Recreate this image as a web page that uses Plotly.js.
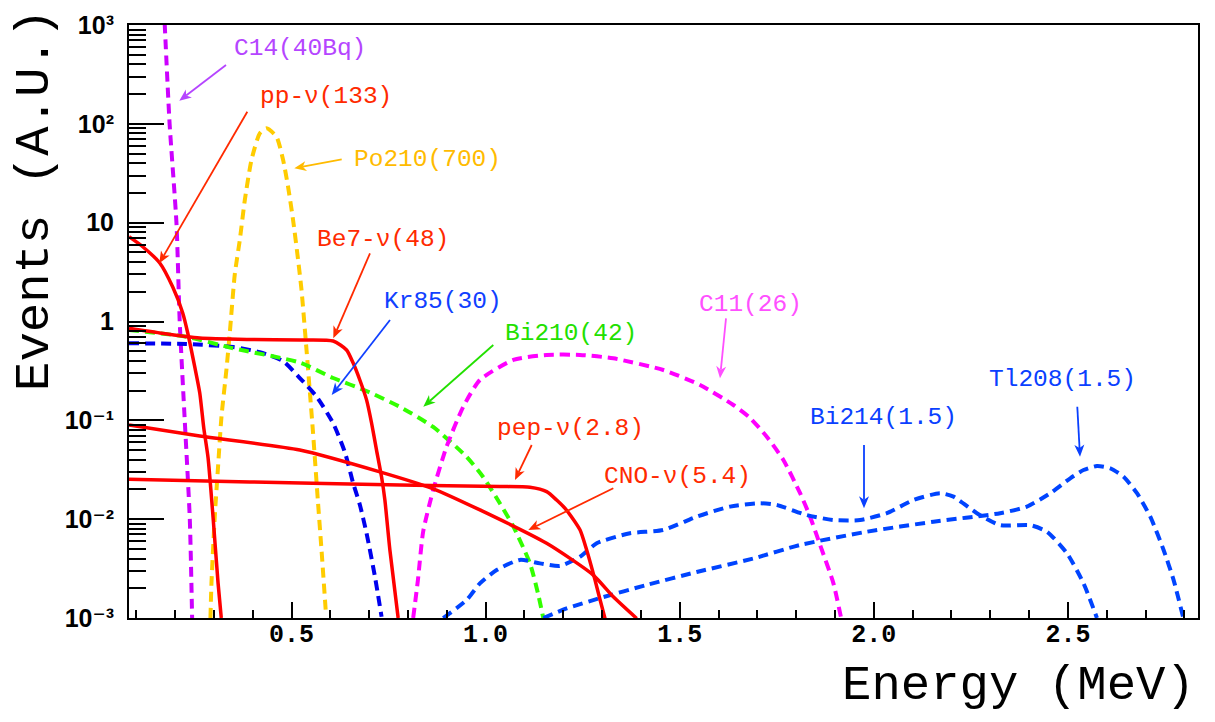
<!DOCTYPE html>
<html>
<head>
<meta charset="utf-8">
<script src="https://cdn.plot.ly/plotly-3.0.1.min.js"></script>
<style>
  html, body { margin: 0; padding: 0; background: #fff; }
  #chart { width: 1215px; height: 722px; }
</style>
</head>
<body>
<div id="chart"></div>
<script>
// Expected spectra of signal and background in the fiducial volume (energy in MeV, events in A.U.)

// C14 (40 Bq)
const c14E = [0.1713, 0.1735, 0.186, 0.2036, 0.212, 0.225, 0.238, 0.244];
const c14Y = [1500, 1000, 100, 10, 1, 0.1, 0.01, 0.001];

// pp-neutrinos (133)
const ppE = [0.0814, 0.1168, 0.1606, 0.1941, 0.2198, 0.2327, 0.2508, 0.2637, 0.2740, 0.2851, 0.2979, 0.3108, 0.3191];
const ppY = [7.21, 5.71, 3.91, 2.23, 1.22, 0.765, 0.347, 0.189, 0.0836, 0.0416, 0.0105, 0.00226, 0.001];

// Po210 (700)
const po210E = [0.2912, 0.2938, 0.3023, 0.3108, 0.3196, 0.3325, 0.3410, 0.3539, 0.3668, 0.3797, 0.3969, 0.4183, 0.4356,
                0.4613, 0.4784, 0.4912, 0.5041, 0.5170, 0.5258, 0.5387, 0.5549, 0.5678, 0.5773, 0.5884];
const po210Y = [0.001, 0.00225, 0.0106, 0.034, 0.109, 0.33, 0.765, 3.0, 6.68, 16.9, 43, 80, 90,
                74, 43, 23, 10.6, 4.19, 2.08, 0.515, 0.08, 0.0156, 0.00487, 0.00115];

// Be7-neutrinos (48)
const be7E = [0.0814, 0.1606, 0.2637, 0.3925, 0.5214, 0.6072, 0.6418, 0.6588, 0.6760, 0.6933, 0.7062, 0.7190, 0.7320, 0.7405, 0.7534, 0.7747];
const be7Y = [0.853, 0.765, 0.681, 0.658, 0.650, 0.635, 0.515, 0.380, 0.256, 0.161, 0.094, 0.050, 0.0267, 0.0156, 0.00488, 0.001];

// Kr85 (30)
const kr85E = [0.0814, 0.2294, 0.3495, 0.4180, 0.4776, 0.5214, 0.5644, 0.6072, 0.6374, 0.6588, 0.6760, 0.6933, 0.7147, 0.7320];
const kr85Y = [0.602, 0.592, 0.552, 0.49, 0.398, 0.268, 0.174, 0.0934, 0.0477, 0.0231, 0.014, 0.0072, 0.00265, 0.00103];

// Bi210 (42)
const bi210E = [0.0814, 0.2294, 0.3495, 0.5214, 0.6072, 0.6933, 0.7791, 0.8649, 0.9508, 0.9936, 1.0366, 1.0709, 1.1139, 1.1345, 1.1485];
const bi210Y = [0.82, 0.70, 0.536, 0.384, 0.268, 0.198, 0.137, 0.0857, 0.0428, 0.0267, 0.0145, 0.0085, 0.0036, 0.0018, 0.001];

// pep-neutrinos (2.8)
const pepE = [0.0814, 0.3925, 0.7791, 1.0369, 1.1142, 1.1572, 1.1830, 1.2088, 1.2430, 1.2603, 1.2817, 1.2946, 1.3075];
const pepY = [0.0253, 0.0238, 0.0222, 0.0214, 0.0210, 0.0190, 0.0156, 0.0123, 0.0078, 0.00487, 0.00243, 0.00154, 0.00099];

// CNO-neutrinos (5.4)
const cnoE = [0.0814, 0.2637, 0.5214, 0.7276, 0.8649, 0.9853, 1.1572, 1.2773, 1.3289, 1.3892];
const cnoY = [0.0897, 0.0693, 0.0501, 0.0301, 0.0203, 0.0124, 0.0057, 0.00272, 0.00164, 0.00099];

// C11 (26)
const c11E = [0.8134, 0.8255, 0.8392, 0.8649, 0.8995, 0.9423, 0.9853, 1.0711, 1.1572, 1.2430, 1.3289, 1.4577,
              1.5523, 1.6381, 1.6812, 1.7242, 1.7670, 1.8101, 1.8358, 1.8616, 1.8959, 1.9157];
const c11Y = [0.001, 0.0024, 0.0075, 0.0197, 0.0542, 0.137, 0.256, 0.408, 0.459, 0.459, 0.424, 0.323,
              0.228, 0.143, 0.1056, 0.0683, 0.0397, 0.0183, 0.0106, 0.00548, 0.00224, 0.001];

// Bi214 (1.5)
const bi214E = [0.8907, 0.9510, 0.9853, 1.0284, 1.0884, 1.1400, 1.1915, 1.2430, 1.2861, 1.3719, 1.4577, 1.5438, 1.6296,
                1.7070, 1.7500, 1.8273, 1.8959, 1.9647, 2.0335, 2.1021, 2.1709, 2.2052, 2.2655, 2.3255, 2.4028, 2.4459,
                2.4974, 2.5402, 2.5747];
const bi214Y = [0.001, 0.00152, 0.00224, 0.00306, 0.00387, 0.00357, 0.00336, 0.00417, 0.0057, 0.0072, 0.00777, 0.0106, 0.0134,
                0.0145, 0.0139, 0.0110, 0.0098, 0.0098, 0.0115, 0.0156, 0.0183, 0.0169, 0.0115, 0.0087, 0.0087, 0.00746,
                0.00452, 0.00224, 0.001];

// Tl208 (1.5)
const tl208E = [1.1485, 1.2088, 1.2946, 1.4149, 1.5438, 1.6897, 1.8101, 1.9820, 2.1536, 2.3255, 2.3943, 2.4544,
                2.5059, 2.5402, 2.5747, 2.6090, 2.6433, 2.6778, 2.7121, 2.7464, 2.7722, 2.7972];
const tl208Y = [0.001, 0.00125, 0.00159, 0.00216, 0.00292, 0.0040, 0.00548, 0.00746, 0.00942, 0.0115, 0.0134, 0.0183,
                0.0259, 0.0314, 0.0345, 0.0327, 0.0269, 0.0183, 0.0106, 0.00488, 0.00242, 0.001];

// Decade ticks of the event axis and their labels
const yTickVals = [0.001, 0.01, 0.1, 1, 10, 100, 1000];
const yTickText = ['10⁻³', '10⁻²', '10⁻¹', '1', '10', '10²', '10³'];

// Labels shown next to each spectrum
const labelTexts = ['C14(40Bq)', 'pp-ν(133)', 'Po210(700)', 'Be7-ν(48)', 'Kr85(30)', 'Bi210(42)',
                    'pep-ν(2.8)', 'CNO-ν(5.4)', 'C11(26)', 'Bi214(1.5)', 'Tl208(1.5)'];

const MONO = 'Courier New, Courier, Nimbus Mono PS, FreeMono, Liberation Mono, monospace';
const DASH = '10px,6px';

function dashed(x, y, color) {
  return { x: x, y: y, type: 'scatter', mode: 'lines',
           line: { color: color, width: 4, dash: DASH, shape: 'spline', smoothing: 0.6 },
           hoverinfo: 'skip' };
}
function solid(x, y, color) {
  return { x: x, y: y, type: 'scatter', mode: 'lines',
           line: { color: color, width: 3.5, shape: 'spline', smoothing: 0.6 },
           hoverinfo: 'skip' };
}

const traces = [
  dashed(c14E, c14Y, '#cc00ff'),
  dashed(po210E, po210Y, '#ffcc00'),
  dashed(kr85E, kr85Y, '#0000ee'),
  dashed(bi210E, bi210Y, '#33ff00'),
  dashed(c11E, c11Y, '#ff00ff'),
  dashed(bi214E, bi214Y, '#0044ff'),
  dashed(tl208E, tl208Y, '#0044ff'),
  solid(ppE, ppY, '#ff0000'),
  solid(be7E, be7Y, '#ff0000'),
  solid(pepE, pepY, '#ff0000'),
  solid(cnoE, cnoY, '#ff0000')
];

// Page geometry of the plotting frame (pixels), used to place labels and pointer arrows
const W = 1215, H = 722;
const M = { l: 129, r: 17, t: 25, b: 104 };
const PW = W - M.l - M.r, PH = H - M.t - M.b;
const toPx = (px) => (px - M.l) / PW;
const toPy = (py) => (H - M.b - py) / PH;

// [label, colour, text left, text middle, arrow tail x, tail y, head x, head y]
const callouts = [
  [labelTexts[0],  '#b545ff', 231.7,  49, 226.0,  65.0, 179.3, 100.7],
  [labelTexts[1],  '#ff2a00', 258.3,  97, 247.3, 111.7, 159.3, 263.3],
  [labelTexts[2],  '#ffbb00', 351.7, 159, 341.7, 159.3, 294.3, 168.3],
  [labelTexts[3],  '#ff2a00', 315.0, 239, 370.0, 253.3, 333.3, 338.3],
  [labelTexts[4],  '#1040ff', 381.7, 301, 390.0, 320.0, 331.7, 395.0],
  [labelTexts[5],  '#22e000', 503.3, 333, 493.3, 345.0, 423.3, 406.7],
  [labelTexts[6],  '#ff2a00', 495.0, 428, 531.7, 445.0, 515.0, 480.0],
  [labelTexts[7],  '#ff2a00', 601.7, 476, 613.3, 488.3, 528.3, 530.0],
  [labelTexts[8],  '#ff50ff', 697.0, 304, 726.0, 318.3, 720.0, 378.3],
  [labelTexts[9],  '#0a40ff', 808.3, 418, 864.0, 445.0, 864.0, 508.3],
  [labelTexts[10], '#0a40ff', 986.7, 380, 1077.3, 406.7, 1080.0, 456.7]
];

const annotations = [];
const shapes = [];

// Pointer arrow: a thin shaft plus a filled, slightly notched head
function pointer(tx, ty, hx, hy, color) {
  const dx = hx - tx, dy = hy - ty;
  const len = Math.hypot(dx, dy);
  const ux = dx / len, uy = dy / len;
  const nx = -uy, ny = ux;
  const L = 12, HW = 5;
  const bx = hx - ux * L, by = hy - uy * L;
  const kx = hx - ux * L * 0.72, ky = hy - uy * L * 0.72;
  shapes.push({
    type: 'line', xref: 'paper', yref: 'paper',
    x0: toPx(tx), y0: toPy(ty), x1: toPx(kx), y1: toPy(ky),
    line: { color: color, width: 1.8 }
  });
  const pts = [[hx, hy], [bx + nx * HW, by + ny * HW], [kx, ky], [bx - nx * HW, by - ny * HW]];
  shapes.push({
    type: 'path', xref: 'paper', yref: 'paper',
    path: 'M' + pts.map(p => toPx(p[0]).toFixed(5) + ',' + toPy(p[1]).toFixed(5)).join('L') + 'Z',
    fillcolor: color, line: { width: 0 }
  });
}

callouts.forEach(function (c) {
  annotations.push({
    text: c[0], xref: 'paper', yref: 'paper', x: toPx(c[2]), y: toPy(c[3]),
    xanchor: 'left', yanchor: 'middle', showarrow: false,
    font: { family: MONO, size: 24.5, color: c[1] }
  });
  pointer(c[4], c[5], c[6], c[7], c[1]);
});

// Axis titles
annotations.push({
  text: 'Energy (MeV)', xref: 'paper', yref: 'paper', x: toPx(1197), y: toPy(686),
  xanchor: 'right', yanchor: 'middle', showarrow: false,
  font: { family: MONO, size: 49, color: '#000' }
});
annotations.push({
  text: 'Events (A.U.)', xref: 'paper', yref: 'paper', x: toPx(35), y: toPy(200),
  xanchor: 'center', yanchor: 'middle', showarrow: false, textangle: -90,
  font: { family: MONO, size: 49, color: '#000' }
});

const layout = {
  width: W, height: H,
  margin: { l: M.l, r: M.r, t: M.t, b: M.b, pad: 0 },
  paper_bgcolor: '#ffffff', plot_bgcolor: '#ffffff',
  showlegend: false, hovermode: false,
  xaxis: {
    range: [0.0814, 2.835], tickmode: 'linear', tick0: 0, dtick: 0.5, tickformat: '.1f',
    ticks: 'inside', ticklen: 16, tickwidth: 2, tickcolor: '#000',
    minor: { tickmode: 'linear', tick0: 0, dtick: 0.1, ticks: 'inside', ticklen: 8, tickwidth: 2, tickcolor: '#000' },
    showline: true, linecolor: '#000', linewidth: 2, mirror: true,
    showgrid: false, zeroline: false, ticklabelstandoff: -8,
    tickfont: { family: MONO, size: 25, weight: 'bold', color: '#000' }
  },
  yaxis: {
    type: 'log', range: [-3, 3], tickmode: 'array', tickvals: yTickVals, ticktext: yTickText,
    ticks: 'inside', ticklen: 35, tickwidth: 2, tickcolor: '#000',
    minor: { tickmode: 'linear', dtick: 'D1', ticks: 'inside', ticklen: 17, tickwidth: 2, tickcolor: '#000' },
    showline: true, linecolor: '#000', linewidth: 2, mirror: true,
    showgrid: false, zeroline: false, ticklabelstandoff: 8,
    tickfont: { family: 'Liberation Sans, DejaVu Sans, Arial, sans-serif', size: 25, weight: 'bold', color: '#000' }
  },
  annotations: annotations,
  shapes: shapes
};

Plotly.newPlot('chart', traces, layout, { staticPlot: true, displayModeBar: false });
</script>
</body>
</html>
